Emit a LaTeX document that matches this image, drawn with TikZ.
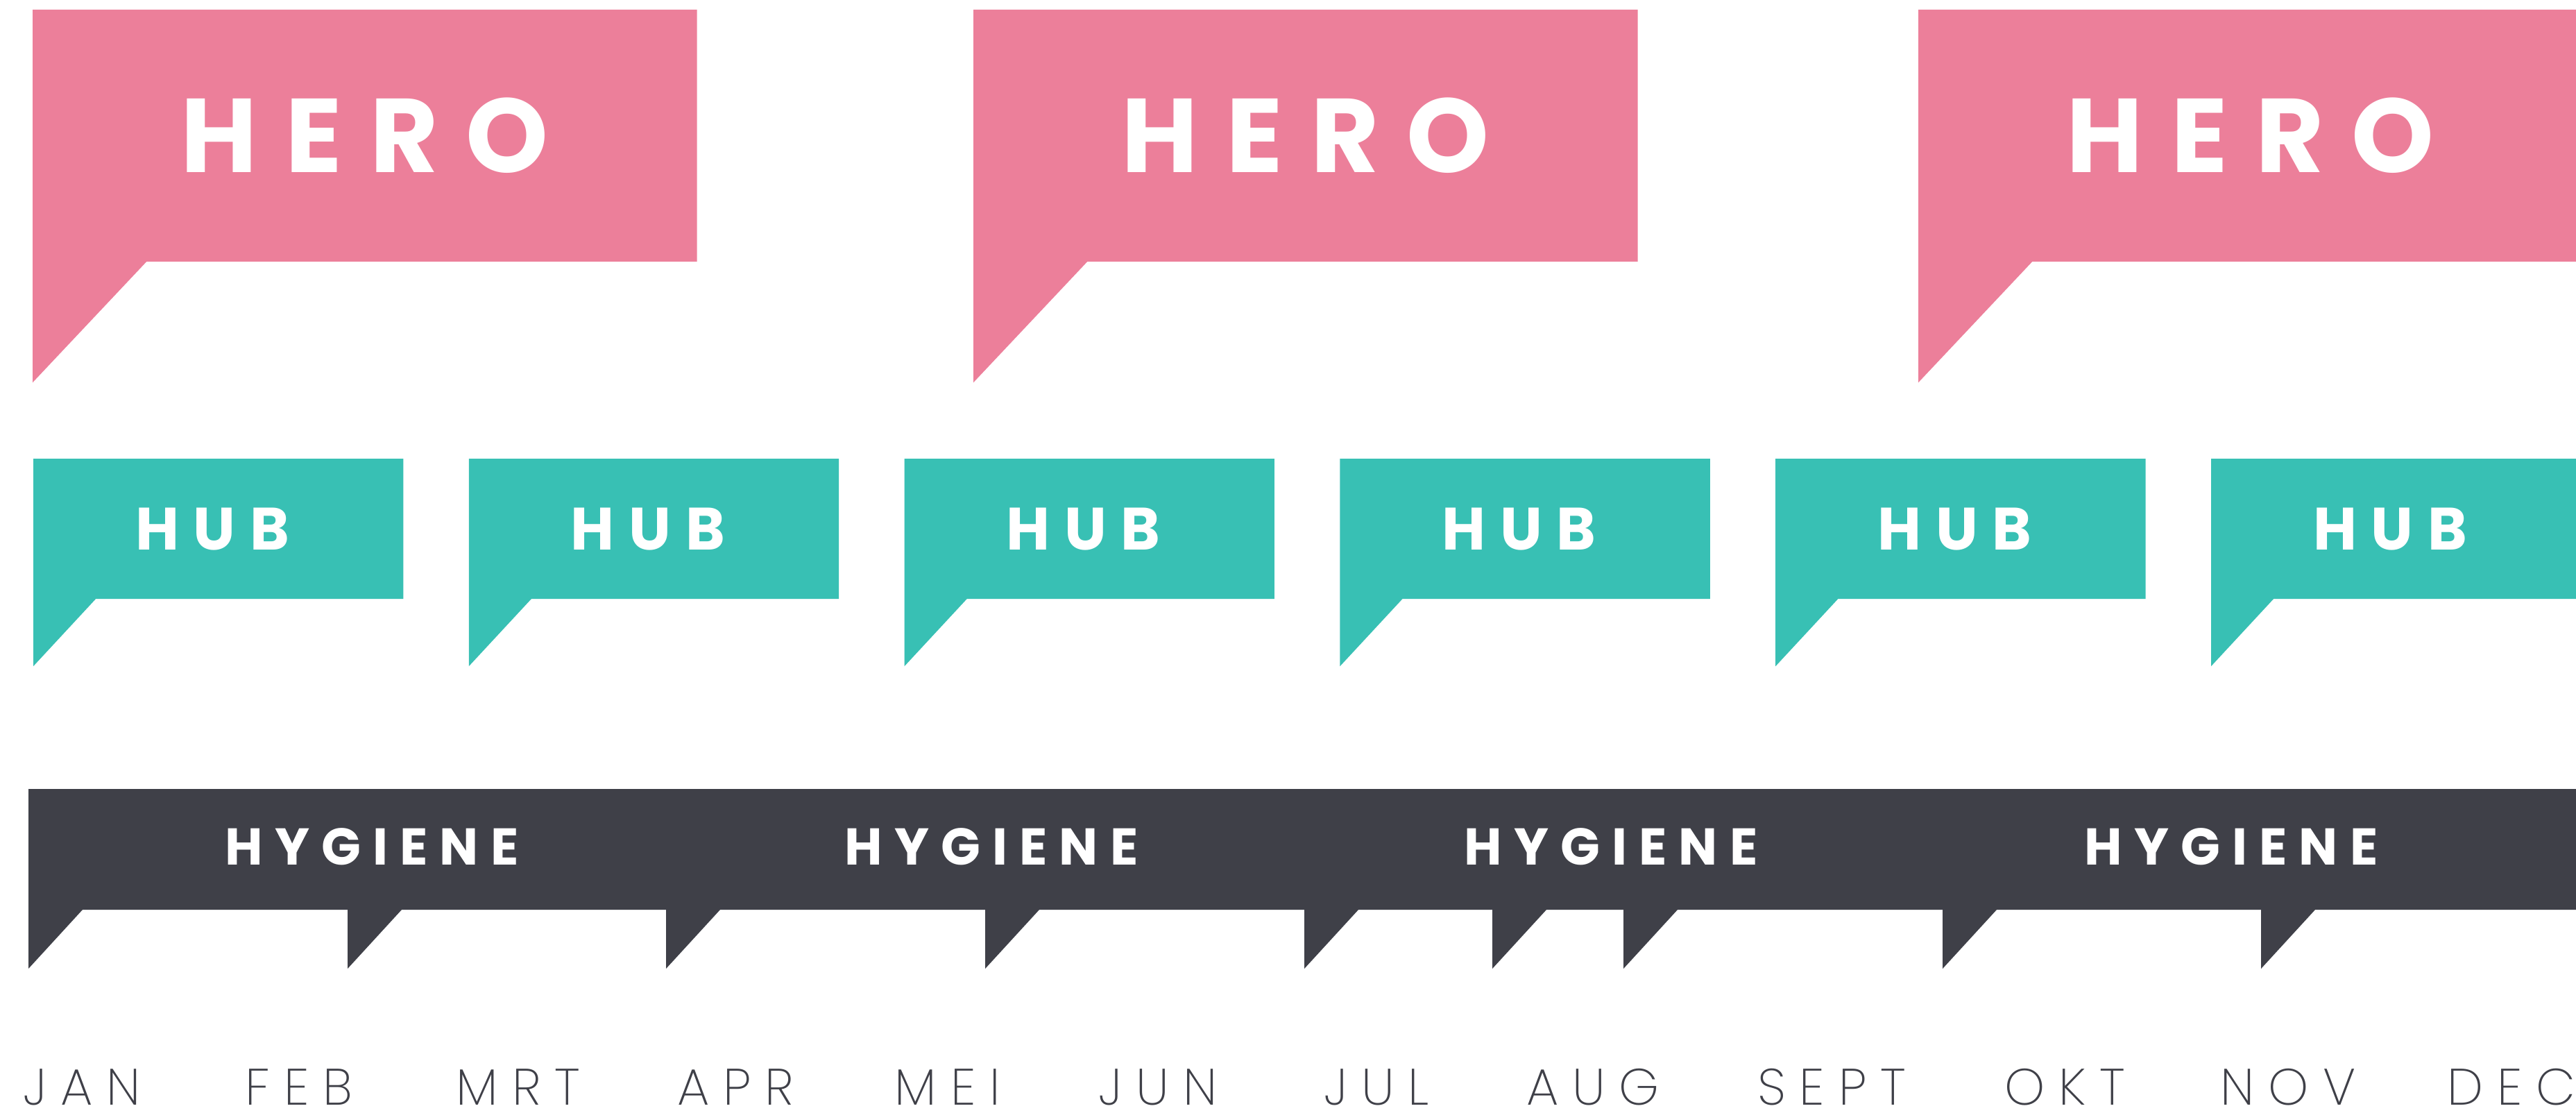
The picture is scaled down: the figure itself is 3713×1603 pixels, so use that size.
\documentclass[tikz,border=0pt]{standalone}
\usepackage{fontspec}
\usetikzlibrary{backgrounds}
\IfFontExistsTF{Poppins ExtraLight}{\newfontfamily\monthface{Poppins ExtraLight}}{%
  \IfFontExistsTF{Poppins Light}{\newfontfamily\monthface{Poppins Light}}{\newfontfamily\monthface{Poppins}}}
\newfontfamily\labface{Poppins}
\definecolor{heropink}{HTML}{EC7F9A}
\definecolor{hubteal}{HTML}{38C0B4}
\definecolor{hygdark}{HTML}{3F4048}
\makeatletter
\def\sp@loop#1{\ifx#1\relax\else\kern\sp@amt\relax#1\expandafter\sp@loop\fi}
\def\sp@first#1{#1\sp@loop}
\newcommand\spaced[2]{\def\sp@amt{#1}\edef\sp@list{#2}\expandafter\sp@first\sp@list\relax}
\makeatother
\begin{document}
\begin{tikzpicture}[x=0.01cm,y=-0.01cm,
  bubble/.style={inner sep=0pt, outer sep=0pt, anchor=north west, text=white},
  herobox/.style={bubble, minimum width=9.57cm, minimum height=3.63cm,
    font=\labface\bfseries\fontsize{43}{43}\selectfont},
  hubbox/.style={bubble, minimum width=5.33cm, minimum height=2.02cm,
    font=\labface\bfseries\fontsize{24.5}{24.5}\selectfont},
  bandbox/.style={bubble, minimum width=36.8cm, minimum height=1.74cm},
  hyglabel/.style={inner sep=0pt, text=white, font=\labface\bfseries\fontsize{21.2}{21.2}\selectfont},
  month/.style={inner sep=0pt, text=hygdark, font=\monthface\fontsize{21}{21}\selectfont}
]
\clip (0,0) rectangle (3713,1603);
% HERO bubbles
\foreach \x/\n in {47/1,1403/2,2765/3}{
  \node[herobox] (hero\n) at (\x,14) {\spaced{.265em}{HERO}};
  \begin{scope}[on background layer]
    \fill[heropink] (hero\n.north west) -- (hero\n.north east) -- (hero\n.south east)
      -- ([xshift=1.64cm]hero\n.south west) -- ([yshift=-1.74cm]hero\n.south west) -- cycle;
  \end{scope}
}
% HUB bubbles
\foreach \i in {0,...,5}{
  \pgfmathsetmacro\hx{48+627.8*\i}
  \node[hubbox] (hub\i) at (\hx,661) {\spaced{.24em}{HUB}\kern.2em};
  \begin{scope}[on background layer]
    \fill[hubteal] (hub\i.north west) -- (hub\i.north east) -- (hub\i.south east)
      -- ([xshift=0.9cm]hub\i.south west) -- ([yshift=-0.97cm]hub\i.south west) -- cycle;
  \end{scope}
}
% HYGIENE band
\node[bandbox] (band) at (41,1137) {};
\begin{scope}[on background layer]
  \fill[hygdark] (band.north west) -- (band.north east) -- (band.south east)
    \foreach \x in {3259,2800,2340,2151,1880,1420,960,501}{
      -- (\x+78,1311) -- (\x,1396) -- (\x,1311)
    }
    -- (119,1311) -- (41,1396) -- cycle;
\end{scope}
\foreach \x/\n in {536/1,1429/2,2322/3,3216/4}{
  \node[hyglabel] (hyg\n) at (\x,1220) {\spaced{.23em}{HYGIENE}};
}
% months
\foreach \x/\m in {118/JAN,431/FEB,747/MRT,1060/APR,1366/MEI,1669/JUN,1984/JUL,2296/AUG,2640/SEPT,2976/OKT,3298/NOV,3620/DEC}{
  \node[month] (month\m) at (\x,1567) {\spaced{.27em}{\m}};
}
\end{tikzpicture}
\end{document}
